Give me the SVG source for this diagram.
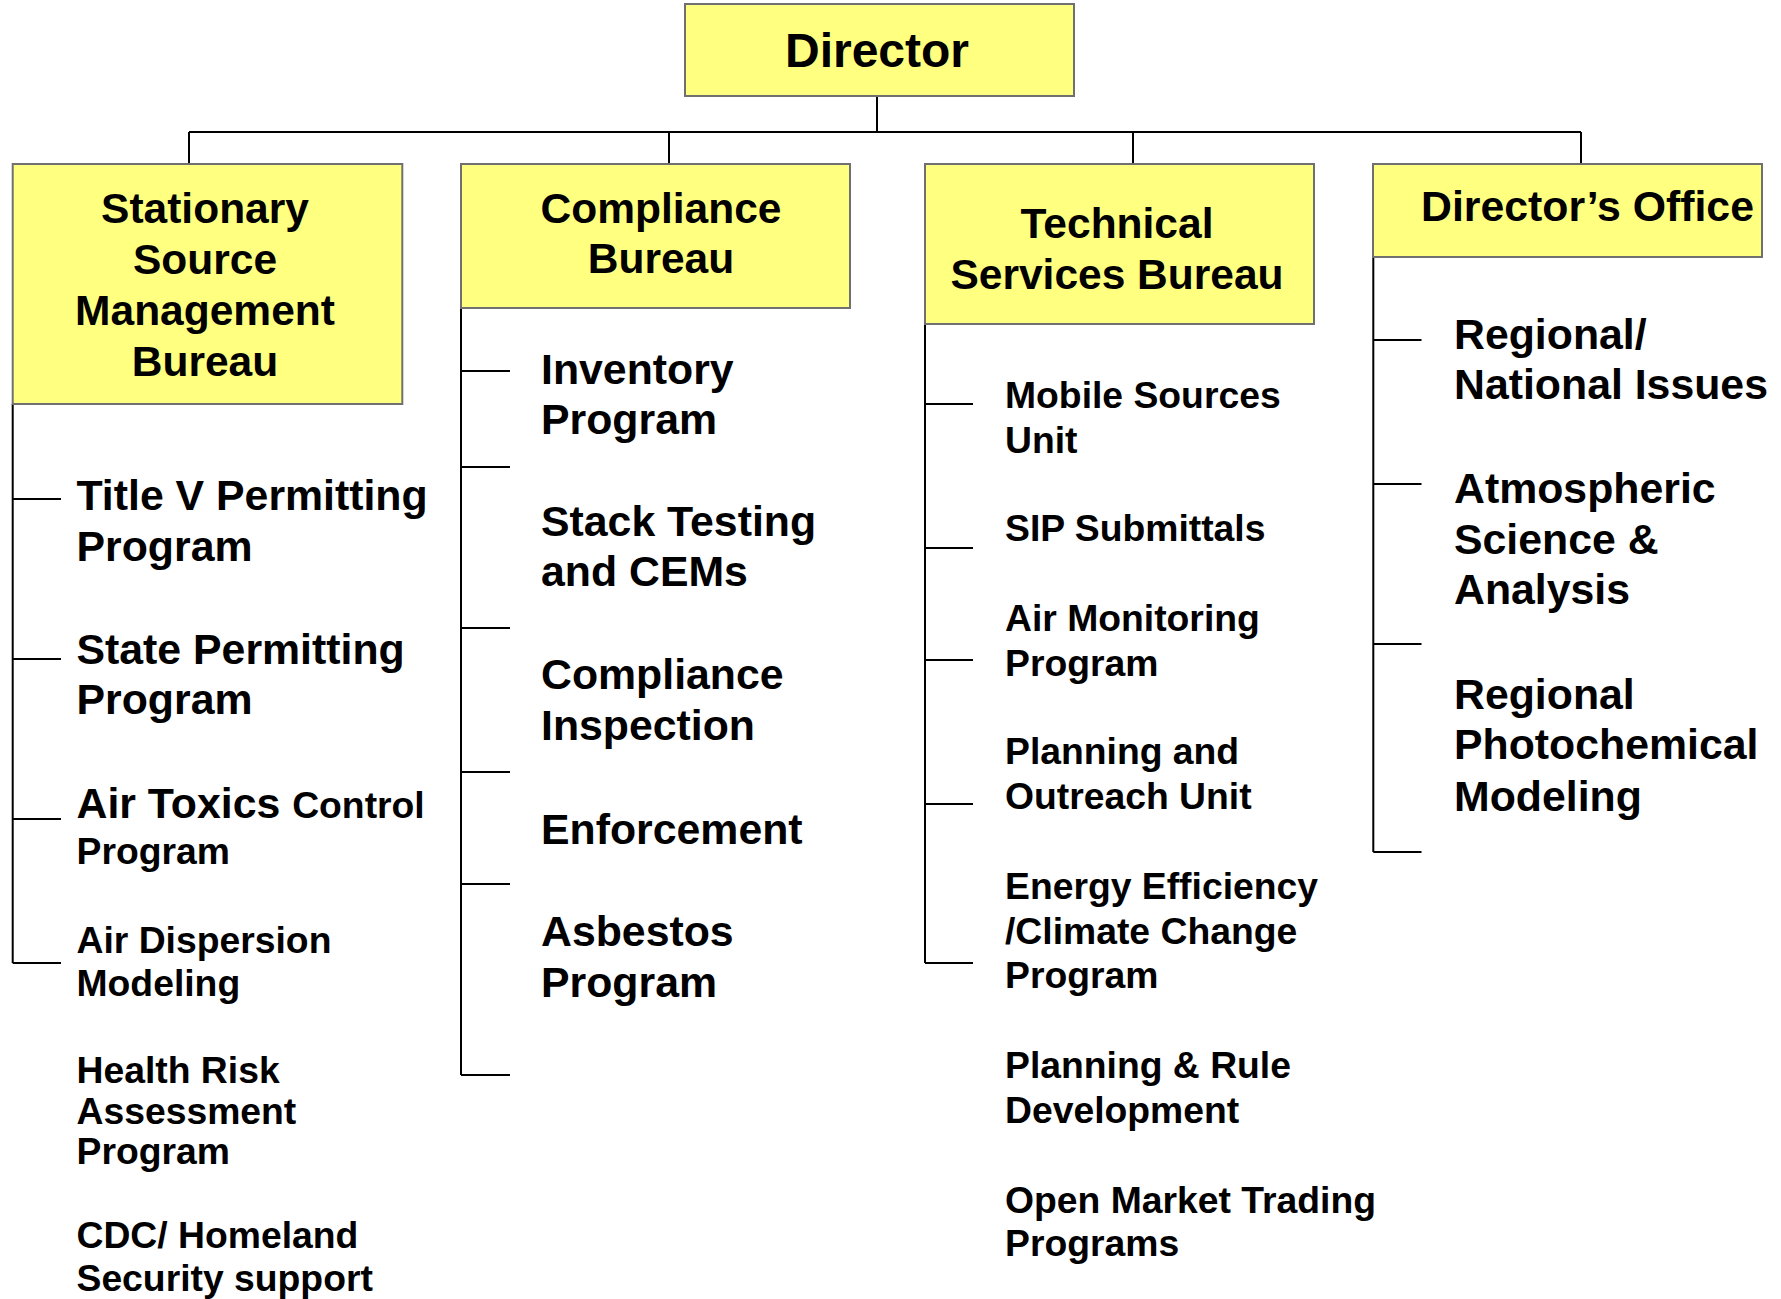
<svg xmlns="http://www.w3.org/2000/svg" width="1781" height="1299" viewBox="0 0 1781 1299">
<style>
.box{fill:#FFFF80;stroke:#707070;stroke-width:2}
.ln{stroke:#000;stroke-width:2;fill:none}
text{font-family:"Liberation Sans",Arial,Helvetica,sans-serif;font-weight:bold;fill:#000}
.h{font-size:42.5px;text-anchor:middle}
.b{font-size:42.8px}
.s{font-size:37.3px}
</style>
<rect width="1781" height="1299" fill="#fff"/>
<g id="connectors">
<path class="ln" d="M877 97V132M189 132H1581M189 132V164M669 132V164M1133 132V164M1581 132V164"/>
<path class="ln" d="M12.7 404V963M12.7 499H61M12.7 659H61M12.7 819H61M12.7 963H61"/>
<path class="ln" d="M461 308V1075M461 371H510M461 467H510M461 628H510M461 772H510M461 884H510M461 1075H510"/>
<path class="ln" d="M925 324V963M925 404H973M925 548H973M925 660H973M925 804H973M925 963H973"/>
<path class="ln" d="M1373.3 257V852M1373.3 340H1421.5M1373.3 484H1421.5M1373.3 644H1421.5M1373.3 852H1421.5"/>
</g>
<g id="director">
<rect class="box" x="685" y="4" width="389" height="92"/>
<text x="877" y="67" style="font-size:48px;text-anchor:middle">Director</text>
</g>
<g id="ssmb">
<rect class="box" x="12.7" y="164" width="389.6" height="240"/>
<text class="h" x="205" y="223">Stationary</text>
<text class="h" x="205" y="274">Source</text>
<text class="h" x="205" y="325">Management</text>
<text class="h" x="205" y="376">Bureau</text>
</g>
<g id="compliance">
<rect class="box" x="461" y="164" width="389" height="144"/>
<text class="h" x="661" y="223">Compliance</text>
<text class="h" x="661" y="273">Bureau</text>
</g>
<g id="technical">
<rect class="box" x="925" y="164" width="389" height="160"/>
<text class="h" x="1117" y="238">Technical</text>
<text class="h" x="1117" y="289">Services Bureau</text>
</g>
<g id="directors-office">
<rect class="box" x="1373" y="164" width="389" height="93"/>
<text class="b" x="1421" y="221">Director’s Office</text>
</g>
<g id="ssmb-items">
<text class="b" x="76.5" y="510">Title V Permitting</text>
<text class="b" x="76.5" y="561">Program</text>
<text class="b" x="76.5" y="664">State Permitting</text>
<text class="b" x="76.5" y="714">Program</text>
<text x="76.5" y="818"><tspan class="b">Air Toxics </tspan><tspan class="s">Control</tspan></text>
<text class="s" x="76.5" y="864">Program</text>
<text class="s" x="76.5" y="953">Air Dispersion</text>
<text class="s" x="76.5" y="996">Modeling</text>
<text class="s" x="76.5" y="1083">Health Risk</text>
<text class="s" x="76.5" y="1124">Assessment</text>
<text class="s" x="76.5" y="1164">Program</text>
<text class="s" x="76.5" y="1248">CDC/ Homeland</text>
<text class="s" x="76.5" y="1291">Security support</text>
</g>
<g id="compliance-items">
<text class="b" x="541" y="384">Inventory</text>
<text class="b" x="541" y="434">Program</text>
<text class="b" x="541" y="536">Stack Testing</text>
<text class="b" x="541" y="586">and CEMs</text>
<text class="b" x="541" y="689">Compliance</text>
<text class="b" x="541" y="740">Inspection</text>
<text class="b" x="541" y="844">Enforcement</text>
<text class="b" x="541" y="946">Asbestos</text>
<text class="b" x="541" y="997">Program</text>
</g>
<g id="technical-items">
<text class="s" x="1005" y="408">Mobile Sources</text>
<text class="s" x="1005" y="453">Unit</text>
<text class="s" x="1005" y="541">SIP Submittals</text>
<text class="s" x="1005" y="631">Air Monitoring</text>
<text class="s" x="1005" y="676">Program</text>
<text class="s" x="1005" y="764">Planning and</text>
<text class="s" x="1005" y="809">Outreach Unit</text>
<text class="s" x="1005" y="899">Energy Efficiency</text>
<text class="s" x="1005" y="944">/Climate Change</text>
<text class="s" x="1005" y="988">Program</text>
<text class="s" x="1005" y="1078">Planning &amp; Rule</text>
<text class="s" x="1005" y="1123">Development</text>
<text class="s" x="1005" y="1213">Open Market Trading</text>
<text class="s" x="1005" y="1256">Programs</text>
</g>
<g id="directors-office-items">
<text class="b" x="1454" y="349">Regional/</text>
<text class="b" x="1454" y="399">National Issues</text>
<text class="b" x="1454" y="503">Atmospheric</text>
<text class="b" x="1454" y="554">Science &amp;</text>
<text class="b" x="1454" y="604">Analysis</text>
<text class="b" x="1454" y="709">Regional</text>
<text class="b" x="1454" y="759">Photochemical</text>
<text class="b" x="1454" y="811">Modeling</text>
</g>
</svg>
